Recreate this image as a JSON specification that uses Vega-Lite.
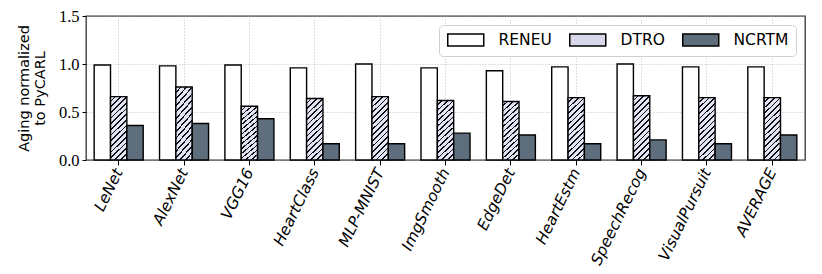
{
  "$schema": "https://vega.github.io/schema/vega-lite/v6.json",
  "width": 719,
  "height": 144,
  "autosize": "none",
  "padding": {"left": 86, "top": 16, "right": 17, "bottom": 114},
  "background": "white",
  "data": {"values": [
    {"bench": "LeNet", "scheme": "RENEU", "value": 0.99},
    {"bench": "LeNet", "scheme": "DTRO", "value": 0.66},
    {"bench": "LeNet", "scheme": "NCRTM", "value": 0.36},
    {"bench": "AlexNet", "scheme": "RENEU", "value": 0.98},
    {"bench": "AlexNet", "scheme": "DTRO", "value": 0.76},
    {"bench": "AlexNet", "scheme": "NCRTM", "value": 0.38},
    {"bench": "VGG16", "scheme": "RENEU", "value": 0.99},
    {"bench": "VGG16", "scheme": "DTRO", "value": 0.56},
    {"bench": "VGG16", "scheme": "NCRTM", "value": 0.43},
    {"bench": "HeartClass", "scheme": "RENEU", "value": 0.96},
    {"bench": "HeartClass", "scheme": "DTRO", "value": 0.64},
    {"bench": "HeartClass", "scheme": "NCRTM", "value": 0.17},
    {"bench": "MLP-MNIST", "scheme": "RENEU", "value": 1.0},
    {"bench": "MLP-MNIST", "scheme": "DTRO", "value": 0.66},
    {"bench": "MLP-MNIST", "scheme": "NCRTM", "value": 0.17},
    {"bench": "ImgSmooth", "scheme": "RENEU", "value": 0.96},
    {"bench": "ImgSmooth", "scheme": "DTRO", "value": 0.62},
    {"bench": "ImgSmooth", "scheme": "NCRTM", "value": 0.28},
    {"bench": "EdgeDet", "scheme": "RENEU", "value": 0.93},
    {"bench": "EdgeDet", "scheme": "DTRO", "value": 0.61},
    {"bench": "EdgeDet", "scheme": "NCRTM", "value": 0.26},
    {"bench": "HeartEstm", "scheme": "RENEU", "value": 0.97},
    {"bench": "HeartEstm", "scheme": "DTRO", "value": 0.65},
    {"bench": "HeartEstm", "scheme": "NCRTM", "value": 0.17},
    {"bench": "SpeechRecog", "scheme": "RENEU", "value": 1.0},
    {"bench": "SpeechRecog", "scheme": "DTRO", "value": 0.67},
    {"bench": "SpeechRecog", "scheme": "NCRTM", "value": 0.21},
    {"bench": "VisualPursuit", "scheme": "RENEU", "value": 0.97},
    {"bench": "VisualPursuit", "scheme": "DTRO", "value": 0.65},
    {"bench": "VisualPursuit", "scheme": "NCRTM", "value": 0.17},
    {"bench": "AVERAGE", "scheme": "RENEU", "value": 0.97},
    {"bench": "AVERAGE", "scheme": "DTRO", "value": 0.65},
    {"bench": "AVERAGE", "scheme": "NCRTM", "value": 0.26}
  ]},
  "mark": {"type": "bar", "stroke": "black", "strokeWidth": 1.4},
  "encoding": {
    "x": {
      "field": "bench", "type": "nominal", "sort": null,
      "scale": {"paddingInner": 0.25, "paddingOuter": 0.125},
      "axis": {
        "title": null, "labelAngle": -64, "labelAlign": "right", "labelBaseline": "middle",
        "labelFont": "DejaVu Sans", "labelFontStyle": "italic", "labelFontSize": 15.5, "labelColor": "black",
        "tickColor": "black", "tickSize": 5, "labelPadding": 4,
        "domain": false,
        "grid": true, "gridColor": "#b0b0b0", "gridDash": [1, 2], "gridWidth": 0.8
      }
    },
    "xOffset": {"field": "scheme", "type": "nominal", "sort": ["RENEU", "DTRO", "NCRTM"]},
    "y": {
      "field": "value", "type": "quantitative",
      "scale": {"domain": [0, 1.5], "nice": false},
      "axis": {
        "values": [0, 0.5, 1.0, 1.5], "format": ".1f",
        "title": ["Aging normalized", "to PyCARL"], "titleFont": "DejaVu Sans", "titleFontWeight": "normal",
        "titleFontSize": 14.5, "titleColor": "black", "titlePadding": 11, "titleLineHeight": 16,
        "labelFont": "Liberation Serif", "labelFontSize": 16.5, "labelColor": "black", "labelPadding": 3,
        "tickColor": "black", "tickSize": 4, "domain": false,
        "grid": true, "gridColor": "#b0b0b0", "gridDash": [1, 2], "gridWidth": 0.8
      }
    },
    "fill": {
      "condition": {
        "test": "datum.scheme === 'DTRO'",
        "value": {
          "gradient": "linear", "x1": 0, "y1": 0, "x2": 0.299, "y2": 1.178,
          "stops": [
            {"offset": 0, "color": "#e4e4f7"}, {"offset": 0.05, "color": "#e4e4f7"}, {"offset": 0.05, "color": "#111111"}, {"offset": 0.0714, "color": "#111111"},
            {"offset": 0.0714, "color": "#e4e4f7"}, {"offset": 0.1214, "color": "#e4e4f7"}, {"offset": 0.1214, "color": "#111111"}, {"offset": 0.1429, "color": "#111111"},
            {"offset": 0.1429, "color": "#e4e4f7"}, {"offset": 0.1929, "color": "#e4e4f7"}, {"offset": 0.1929, "color": "#111111"}, {"offset": 0.2143, "color": "#111111"},
            {"offset": 0.2143, "color": "#e4e4f7"}, {"offset": 0.2643, "color": "#e4e4f7"}, {"offset": 0.2643, "color": "#111111"}, {"offset": 0.2857, "color": "#111111"},
            {"offset": 0.2857, "color": "#e4e4f7"}, {"offset": 0.3357, "color": "#e4e4f7"}, {"offset": 0.3357, "color": "#111111"}, {"offset": 0.3571, "color": "#111111"},
            {"offset": 0.3571, "color": "#e4e4f7"}, {"offset": 0.4071, "color": "#e4e4f7"}, {"offset": 0.4071, "color": "#111111"}, {"offset": 0.4286, "color": "#111111"},
            {"offset": 0.4286, "color": "#e4e4f7"}, {"offset": 0.4786, "color": "#e4e4f7"}, {"offset": 0.4786, "color": "#111111"}, {"offset": 0.5, "color": "#111111"},
            {"offset": 0.5, "color": "#e4e4f7"}, {"offset": 0.55, "color": "#e4e4f7"}, {"offset": 0.55, "color": "#111111"}, {"offset": 0.5714, "color": "#111111"},
            {"offset": 0.5714, "color": "#e4e4f7"}, {"offset": 0.6214, "color": "#e4e4f7"}, {"offset": 0.6214, "color": "#111111"}, {"offset": 0.6429, "color": "#111111"},
            {"offset": 0.6429, "color": "#e4e4f7"}, {"offset": 0.6929, "color": "#e4e4f7"}, {"offset": 0.6929, "color": "#111111"}, {"offset": 0.7143, "color": "#111111"},
            {"offset": 0.7143, "color": "#e4e4f7"}, {"offset": 0.7643, "color": "#e4e4f7"}, {"offset": 0.7643, "color": "#111111"}, {"offset": 0.7857, "color": "#111111"},
            {"offset": 0.7857, "color": "#e4e4f7"}, {"offset": 0.8357, "color": "#e4e4f7"}, {"offset": 0.8357, "color": "#111111"}, {"offset": 0.8571, "color": "#111111"},
            {"offset": 0.8571, "color": "#e4e4f7"}, {"offset": 0.9071, "color": "#e4e4f7"}, {"offset": 0.9071, "color": "#111111"}, {"offset": 0.9286, "color": "#111111"},
            {"offset": 0.9286, "color": "#e4e4f7"}, {"offset": 0.9786, "color": "#e4e4f7"}, {"offset": 0.9786, "color": "#111111"}, {"offset": 1, "color": "#111111"}
          ]
        }
      },
      "field": "scheme", "type": "nominal", "sort": ["RENEU", "DTRO", "NCRTM"],
      "scale": {"domain": ["RENEU", "DTRO", "NCRTM"], "range": ["#ffffff", "#d8d8ec", "#5f6e7c"]},
      "legend": {
        "title": null, "orient": "top-right", "direction": "horizontal", "offset": 9,
        "symbolType": "M-3,-1L3,-1L3,1L-3,1Z", "symbolSize": 144, "symbolOffset": 12,
        "labelFont": "DejaVu Sans", "labelFontSize": 15.5, "labelColor": "black", "labelOffset": 25,
        "columnPadding": 14, "padding": 7,
        "strokeColor": "#d0d0d0", "fillColor": "white", "cornerRadius": 4,
        "encode": {
          "symbols": {
            "update": {
              "stroke": {"value": "black"},
              "strokeWidth": {"value": 1.4},
              "opacity": {"value": 1}
            }
          }
        }
      }
    }
  },
  "config": {
    "view": {"stroke": "#333333", "strokeWidth": 1.3},
    "axis": {"ticks": true}
  }
}
